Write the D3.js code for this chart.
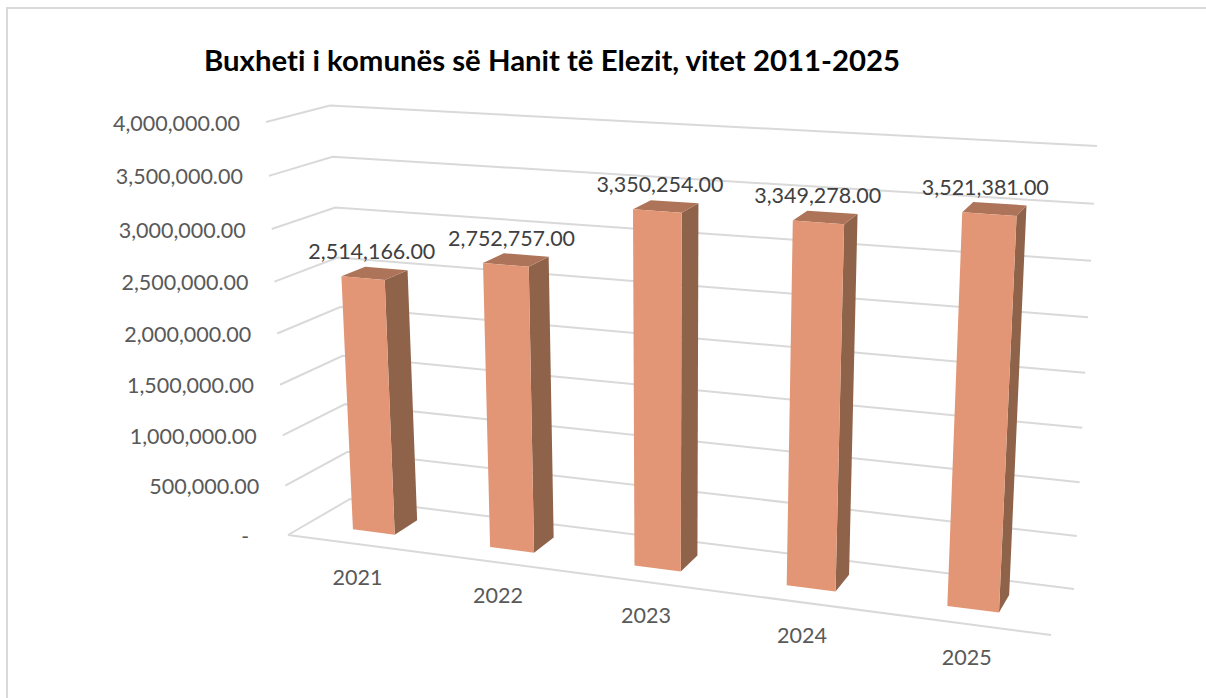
<!DOCTYPE html>
<html><head><meta charset="utf-8">
<script src="https://cdn.jsdelivr.net/npm/d3@7"></script>
<style>
html,body{margin:0;padding:0;background:#fff;overflow:hidden}
text{font-family:Lato,"Open Sans",sans-serif;font-variant-ligatures:none;font-feature-settings:"liga" 0,"clig" 0}
</style></head><body>
<svg id="c" width="1206" height="698"></svg>
<script>
const titleText = "Buxheti i komunës së Hanit të Elezit, vitet 2011-2025";
const categories = ["2021","2022","2023","2024","2025"];
const budgetValues = [2514166,2752757,3350254,3349278,3521381];
const valueTicks = [0,500000,1000000,1500000,2000000,2500000,3000000,3500000,4000000];

// Perspective box of the 3D plot: corners [x,y], f/b = front/back, l/r = left/right, 0/1 = floor/top
const box = {
  fl0:[288,535], fl1:[266,122], bl0:[350,499], bl1:[330,105.5],
  fr0:[1051,635], fr1:[1075,171], br0:[1074,589], br1:[1097,146]
};
const persp = k => t => t*k/(1-t+t*k);
const valueFrac = d3.scaleLinear().domain([0,4000000]).range([0,1]);
const vP = persp(0.953), uP = persp(0.876);
const band = d3.scaleBand().domain(categories).range([-0.001,0.999]).paddingInner(0.69).paddingOuter(0.345);
const depthFront = 0.32, depthBack = 0.71;

function proj(u,value,w){
  const v = vP(valueFrac(value)), uu = uP(u);
  const mix = i => {
    const l0 = d3.interpolateNumber(box.fl0[i],box.bl0[i])(w);
    const l1 = d3.interpolateNumber(box.fl1[i],box.bl1[i])(w);
    const r0 = d3.interpolateNumber(box.fr0[i],box.br0[i])(w);
    const r1 = d3.interpolateNumber(box.fr1[i],box.br1[i])(w);
    const a = d3.interpolateNumber(l0,r0)(uu), b = d3.interpolateNumber(l1,r1)(uu);
    return d3.interpolateNumber(a,b)(v);
  };
  return [mix(0),mix(1)];
}

const svg = d3.select("#c");
const line = d3.line();
const gridCol = "#D9D9D9";

// outer frame
svg.append("path").attr("d","M7,698V8H1206").attr("fill","none").attr("stroke",gridCol).attr("stroke-width",2);

// gridlines
const grid = svg.append("g").attr("fill","none").attr("stroke",gridCol).attr("stroke-width",2);
grid.selectAll("path.g").data(valueTicks).join("path").attr("class","g")
  .attr("d",v=>line([proj(0,v,0),proj(0,v,1),proj(1,v,1)]));
grid.append("path").attr("d",line([proj(0,0,0),proj(1,0,0)]));

// y labels
const fmtVal = d3.format(",.2f");
svg.append("g").selectAll("text").data(valueTicks).join("text")
  .attr("x",v=>proj(0,v,0)[0]-(v===0?39:26))
  .attr("y",v=>proj(0,v,0)[1]+8.5)
  .attr("text-anchor","end").attr("fill","#595959").attr("font-size",21)
  .each(function(v){ if(v!==0){ d3.select(this).attr("textLength",v<1000000?110:127).attr("lengthAdjust","spacingAndGlyphs"); } })
  .text(v=>v===0?"-":fmtVal(v));

// x labels
svg.append("g").selectAll("text").data(categories).join("text")
  .attr("x",c=>proj(band(c)+band.bandwidth()/2,0,0)[0]+2.5)
  .attr("y",c=>proj(band(c)+band.bandwidth()/2,0,0)[1]+41)
  .attr("text-anchor","middle").attr("fill","#595959").attr("font-size",21)
  .attr("textLength",50).attr("lengthAdjust","spacingAndGlyphs")
  .text(c=>c);

// bars
const rows = categories.map((c,i)=>({c,v:budgetValues[i]}));
const bars = svg.append("g").selectAll("g").data(rows).join("g");
bars.each(function(d){
  const u0 = band(d.c), u1 = u0+band.bandwidth(), g = d3.select(this);
  const poly = pts => "M"+pts.map(p=>p.join(",")).join("L")+"Z";
  g.append("path").attr("fill","#8F634A").attr("d",poly([proj(u1,0,depthFront),proj(u1,0,depthBack),proj(u1,d.v,depthBack),proj(u1,d.v,depthFront)]));
  g.append("path").attr("fill","#AE7459").attr("d",poly([proj(u0,d.v,depthFront),proj(u1,d.v,depthFront),proj(u1,d.v,depthBack),proj(u0,d.v,depthBack)]));
  g.append("path").attr("fill","#E29676").attr("d",poly([proj(u0,0,depthFront),proj(u1,0,depthFront),proj(u1,d.v,depthFront),proj(u0,d.v,depthFront)]));
});

// value labels
svg.append("g").selectAll("text").data(rows).join("text")
  .attr("x",d=>{const u=band(d.c)+band.bandwidth()/2; return proj(u,d.v,(depthFront+depthBack)/2)[0]-2-8*u;})
  .attr("y",d=>{const u=band(d.c)+band.bandwidth()/2; return proj(u,d.v,(depthFront+depthBack)/2)[1]-14;})
  .attr("text-anchor","middle").attr("fill","#404040").attr("font-size",21)
  .attr("textLength",127).attr("lengthAdjust","spacingAndGlyphs")
  .text(d=>fmtVal(d.v));

// title
svg.append("text").attr("x",204).attr("y",71).attr("font-size",28).attr("font-weight",700).attr("fill","#000")
  .attr("textLength",696).attr("lengthAdjust","spacingAndGlyphs").text(titleText);
</script>
</body></html>
